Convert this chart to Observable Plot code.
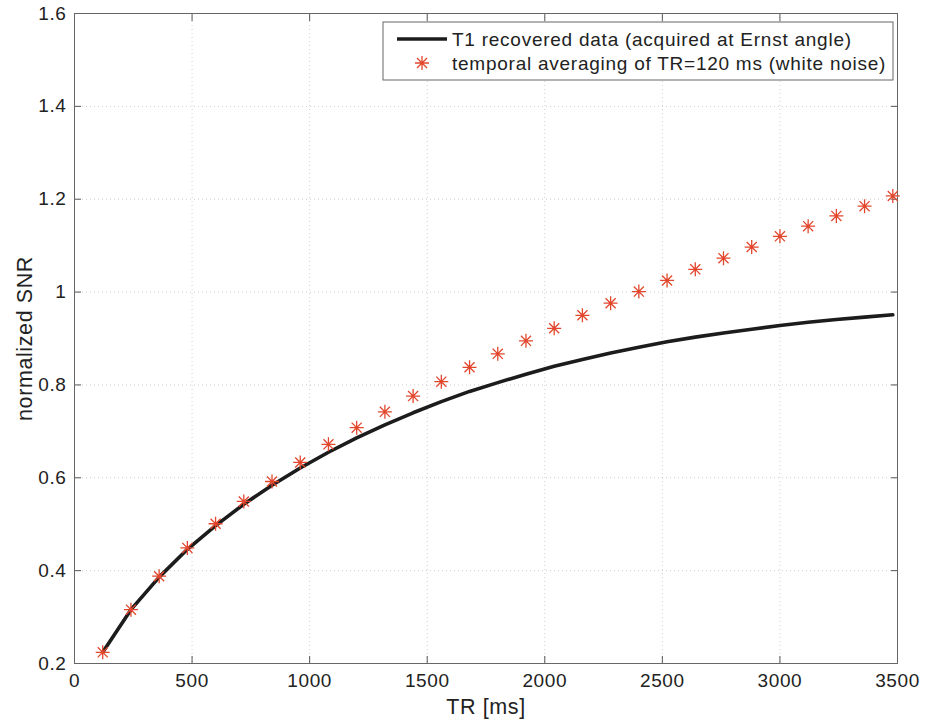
<!DOCTYPE html>
<html>
<head>
<meta charset="utf-8">
<script src="https://cdn.jsdelivr.net/npm/d3@7"></script>
<script src="https://cdn.jsdelivr.net/npm/@observablehq/plot@0.6"></script>
<style>
  html, body { margin: 0; padding: 0; background: #fff; }
  #chart { width: 925px; height: 721px; }
  svg { display: block; }
</style>
</head>
<body>
<div id="chart"></div>
<script>
// ---- Data ----
const trValues = [120, 240, 360, 480, 600, 720, 840, 960, 1080, 1200, 1320, 1440, 1560, 1680, 1800,
  1920, 2040, 2160, 2280, 2400, 2520, 2640, 2760, 2880, 3000, 3120, 3240, 3360, 3480];
const ernstSNR = [0.224, 0.316, 0.386, 0.446, 0.497, 0.543, 0.584, 0.621, 0.655, 0.686, 0.714, 0.740,
  0.764, 0.786, 0.805, 0.823, 0.840, 0.855, 0.869, 0.881, 0.893, 0.903, 0.912, 0.920, 0.928, 0.935,
  0.941, 0.946, 0.951];
const averagedSNR = [0.224, 0.316, 0.388, 0.449, 0.501, 0.549, 0.592, 0.633, 0.672, 0.708, 0.742, 0.776,
  0.807, 0.838, 0.867, 0.895, 0.922, 0.950, 0.976, 1.001, 1.025, 1.049, 1.073, 1.097, 1.120, 1.142,
  1.164, 1.185, 1.207];
const xTicks = [0, 500, 1000, 1500, 2000, 2500, 3000, 3500];
const yTicks = [0.2, 0.4, 0.6, 0.8, 1.0, 1.2, 1.4, 1.6];
const seriesNames = ["T1 recovered data (acquired at Ernst angle)", "temporal averaging of TR=120 ms (white noise)"];
const xLabel = "TR [ms]";
const yLabel = "normalized SNR";

const lineData = trValues.map((t, i) => ({tr: t, snr: ernstSNR[i]}));
const starData = trValues.map((t, i) => ({tr: t, snr: averagedSNR[i]}));

const starColor = "#e2472d";
const FONT = "'Liberation Sans', Arial, Helvetica, sans-serif";

// MATLAB-like '*' marker: plus + cross
const asterisk8 = {
  draw(ctx, size) {
    const r = Math.sqrt(size / Math.PI);
    const d = r * 0.72;
    ctx.moveTo(-r, 0); ctx.lineTo(r, 0);
    ctx.moveTo(0, -r); ctx.lineTo(0, r);
    ctx.moveTo(-d, -d); ctx.lineTo(d, d);
    ctx.moveTo(-d, d); ctx.lineTo(d, -d);
  }
};

const chart = Plot.plot({
  width: 925,
  height: 721,
  marginLeft: 74,
  marginRight: 28,
  marginTop: 13,
  marginBottom: 58,
  style: {fontFamily: FONT, fontSize: "19px", color: "#222", background: "#fff", letterSpacing: "0.6px"},
  x: {domain: [0, 3500]},
  y: {domain: [0.2, 1.6]},
  marks: [
    Plot.gridX(xTicks, {stroke: "#888", strokeOpacity: 0.4, strokeDasharray: "1,3"}),
    Plot.gridY(yTicks, {stroke: "#888", strokeOpacity: 0.4, strokeDasharray: "1,3"}),
    // tick labels
    Plot.axisX(xTicks, {anchor: "bottom", tickSize: 0, tickPadding: 10, tickFormat: d => String(d),
      label: null, fill: "#222"}),
    Plot.axisY(yTicks, {anchor: "left", tickSize: 0, tickPadding: 8, tickFormat: d => String(+d.toFixed(1)),
      label: null, fill: "#222"}),
    // axis titles
    Plot.axisX(xTicks, {anchor: "bottom", tickSize: 0, tickFormat: () => "", fontSize: 21.5,
      label: xLabel, labelAnchor: "center", labelArrow: "none", labelOffset: 50, fill: "#222"}),
    Plot.axisY(yTicks, {anchor: "left", tickSize: 0, tickFormat: () => "", fontSize: 21.5,
      label: yLabel, labelAnchor: "center", labelArrow: "none", labelOffset: 58, fill: "#222"}),
    // inward ticks on all four sides
    Plot.axisX(xTicks, {anchor: "bottom", tickSize: -7, tickFormat: () => "", label: null, stroke: "#555"}),
    Plot.axisX(xTicks, {anchor: "top", tickSize: -7, tickFormat: () => "", label: null, stroke: "#555"}),
    Plot.axisY(yTicks, {anchor: "left", tickSize: -7, tickFormat: () => "", label: null, stroke: "#555"}),
    Plot.axisY(yTicks, {anchor: "right", tickSize: -7, tickFormat: () => "", label: null, stroke: "#555"}),
    Plot.frame({stroke: "#666", strokeWidth: 1}),
    Plot.line(lineData, {x: "tr", y: "snr", stroke: "#1c1c1c", strokeWidth: 3.6, curve: "linear"}),
    Plot.dot(starData, {x: "tr", y: "snr", symbol: asterisk8, r: 7, stroke: starColor, strokeWidth: 1.3, fill: "none"})
  ]
});

document.getElementById("chart").appendChild(chart);

// ---- Legend (inside the plot, top-right, as in MATLAB) ----
const svg = d3.select(chart);
const lg = svg.append("g").attr("font-family", FONT).attr("font-size", 19).attr("fill", "#222")
  .attr("text-anchor", "start").style("letter-spacing", "0.75px");
const box = {x: 383, y: 22, w: 510, h: 58};
lg.append("rect").attr("x", box.x).attr("y", box.y).attr("width", box.w).attr("height", box.h)
  .attr("fill", "#fff").attr("stroke", "#666").attr("stroke-width", 1);
const rowY = [39, 63];
lg.append("line").attr("x1", box.x + 14).attr("x2", box.x + 64).attr("y1", rowY[0]).attr("y2", rowY[0])
  .attr("stroke", "#1c1c1c").attr("stroke-width", 3.6);
const sx = box.x + 39, sy = rowY[1], sr = 7, sd = sr * 0.72;
lg.append("path")
  .attr("d", `M${sx - sr},${sy}L${sx + sr},${sy}M${sx},${sy - sr}L${sx},${sy + sr}M${sx - sd},${sy - sd}L${sx + sd},${sy + sd}M${sx - sd},${sy + sd}L${sx + sd},${sy - sd}`)
  .attr("stroke", starColor).attr("stroke-width", 1.3).attr("fill", "none");
seriesNames.forEach((name, i) => {
  lg.append("text").attr("x", box.x + 69).attr("y", rowY[i]).attr("dy", "0.35em")
    .attr("text-anchor", "start").text(name);
});
</script>
</body>
</html>
